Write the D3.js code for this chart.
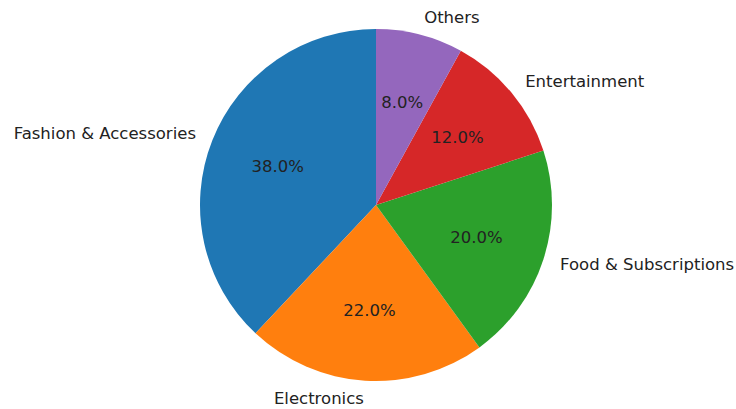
<!DOCTYPE html>
<html>
<head>
<meta charset="utf-8">
<script src="https://cdn.jsdelivr.net/npm/d3@7"></script>
<style>
  body { margin: 0; background: #fff; }
  text { font-family: "DejaVu Sans", sans-serif; fill: #222; }
</style>
</head>
<body>
<div id="pie"></div>
<script>
// chart data
var categories = ["Fashion & Accessories", "Electronics", "Food & Subscriptions", "Entertainment", "Others"];
var values = [38, 22, 20, 12, 8];
var colors = ["#1f77b4", "#ff7f0e", "#2ca02c", "#d62728", "#9467bd"];

var width = 736, height = 409;
var cx = 376, cy = 205, radius = 176;

var svg = d3.select("#pie").append("svg")
    .attr("width", width)
    .attr("height", height)
  .append("g")
    .attr("transform", "translate(" + cx + "," + cy + ")");

// counterclockwise from 12 o'clock, like matplotlib startangle=90
var pie = d3.pie()
    .sort(null)
    .startAngle(0)
    .endAngle(-2 * Math.PI);

var arcs = pie(values);

var arc = d3.arc()
    .innerRadius(0)
    .outerRadius(radius);

var total = d3.sum(values);

svg.selectAll(".slice")
    .data(arcs)
  .enter().append("path")
    .attr("class", "slice")
    .attr("d", arc)
    .attr("fill", function (d, i) { return colors[i]; });

function mid(d) { return (d.startAngle + d.endAngle) / 2; }

// category labels outside
svg.selectAll(".label")
    .data(arcs)
  .enter().append("text")
    .attr("class", "label")
    .attr("x", function (d) { return Math.sin(mid(d)) * radius * 1.1; })
    .attr("y", function (d) { return -Math.cos(mid(d)) * radius * 1.1; })
    .attr("text-anchor", function (d) { return Math.sin(mid(d)) > 0 ? "start" : "end"; })
    .attr("dominant-baseline", "central")
    .attr("font-size", "16.5px")
    .text(function (d, i) { return categories[i]; });

// percentages inside
svg.selectAll(".pct")
    .data(arcs)
  .enter().append("text")
    .attr("class", "pct")
    .attr("x", function (d) { return Math.sin(mid(d)) * radius * 0.6; })
    .attr("y", function (d) { return -Math.cos(mid(d)) * radius * 0.6; })
    .attr("text-anchor", "middle")
    .attr("dominant-baseline", "central")
    .attr("font-size", "16.5px")
    .text(function (d) { return (d.value / total * 100).toFixed(1) + "%"; });
</script>
</body>
</html>
